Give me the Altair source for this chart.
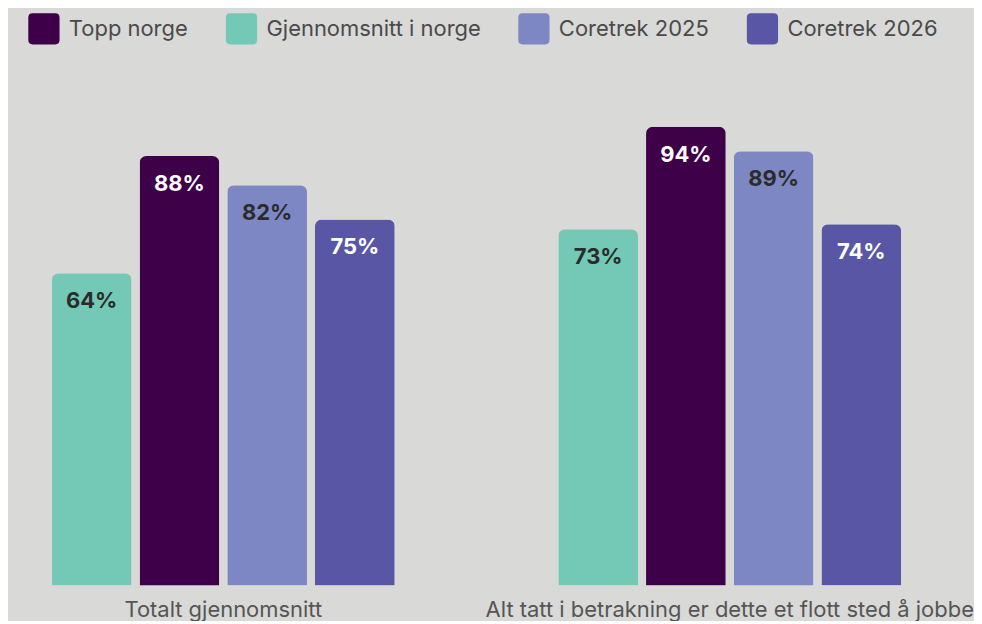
import altair as alt
import pandas as pd

groups = ["Totalt gjennomsnitt", "Alt tatt i betrakning er dette et flott sted å jobbe"]
series = ["Topp norge", "Gjennomsnitt i norge", "Coretrek 2025", "Coretrek 2026"]
bar_order = ["Gjennomsnitt i norge", "Topp norge", "Coretrek 2025", "Coretrek 2026"]
values = {
    "Topp norge": [88, 94],
    "Gjennomsnitt i norge": [64, 73],
    "Coretrek 2025": [82, 89],
    "Coretrek 2026": [75, 74],
}
colors = ["#3d0049", "#74c9b6", "#7d87c4", "#5957a5"]

rows = []
for s in series:
    for g, v in zip(groups, values[s]):
        rows.append({"group": g, "series": s, "value": v, "label": f"{v}%"})
df = pd.DataFrame(rows)

FONT = "Inter"
rounded = ("M-0.72,-1 L0.72,-1 Q1,-1 1,-0.72 L1,0.72 Q1,1 0.72,1 L-0.72,1 "
           "Q-1,1 -1,0.72 L-1,-0.72 Q-1,-1 -0.72,-1 Z")

x_enc = alt.X("group:N", sort=groups, title=None,
              scale=alt.Scale(paddingInner=0.323, paddingOuter=0.0866),
              axis=alt.Axis(labelAngle=0, domain=False, ticks=False, labelFontSize=22,
                            labelColor="#555555", labelFont=FONT, labelPadding=14,
                            labelLimit=0, labelBaseline="top"))
xo_enc = alt.XOffset("series:N", sort=bar_order,
                     scale=alt.Scale(paddingInner=0.091, paddingOuter=0))
y_enc = alt.Y("value:Q", scale=alt.Scale(domain=[0, 100]), axis=None)

base = alt.Chart(df).encode(x=x_enc, xOffset=xo_enc, y=y_enc)

bars = base.mark_bar(cornerRadiusTopLeft=7, cornerRadiusTopRight=7).encode(
    color=alt.Color("series:N", scale=alt.Scale(domain=series, range=colors),
                    legend=alt.Legend(title=None, orient="none", legendX=20, legendY=-85,
                                      direction="horizontal", columns=4,
                                      symbolType=rounded, symbolSize=980,
                                      symbolStrokeWidth=0, symbolOpacity=1,
                                      labelFontSize=22, labelFont=FONT,
                                      labelColor="#4a4a4a", labelOffset=9,
                                      columnPadding=37, labelLimit=0))
)

text = base.mark_text(font=FONT, fontSize=22, fontWeight="bold", baseline="middle",
                      dy=28).encode(
    text="label:N",
    color=alt.condition(
        alt.FieldOneOfPredicate(field="series", oneOf=["Topp norge", "Coretrek 2026"]),
        alt.value("white"), alt.value("#2b2b2b")),
)

chart = (bars + text).properties(
    width=939, height=489, background="#d9d9d7",
    padding={"left": 0, "top": 4, "right": 0, "bottom": 0},
).configure_view(stroke=None)

chart.save("out.html", embed_options={"renderer": "svg", "actions": False})
